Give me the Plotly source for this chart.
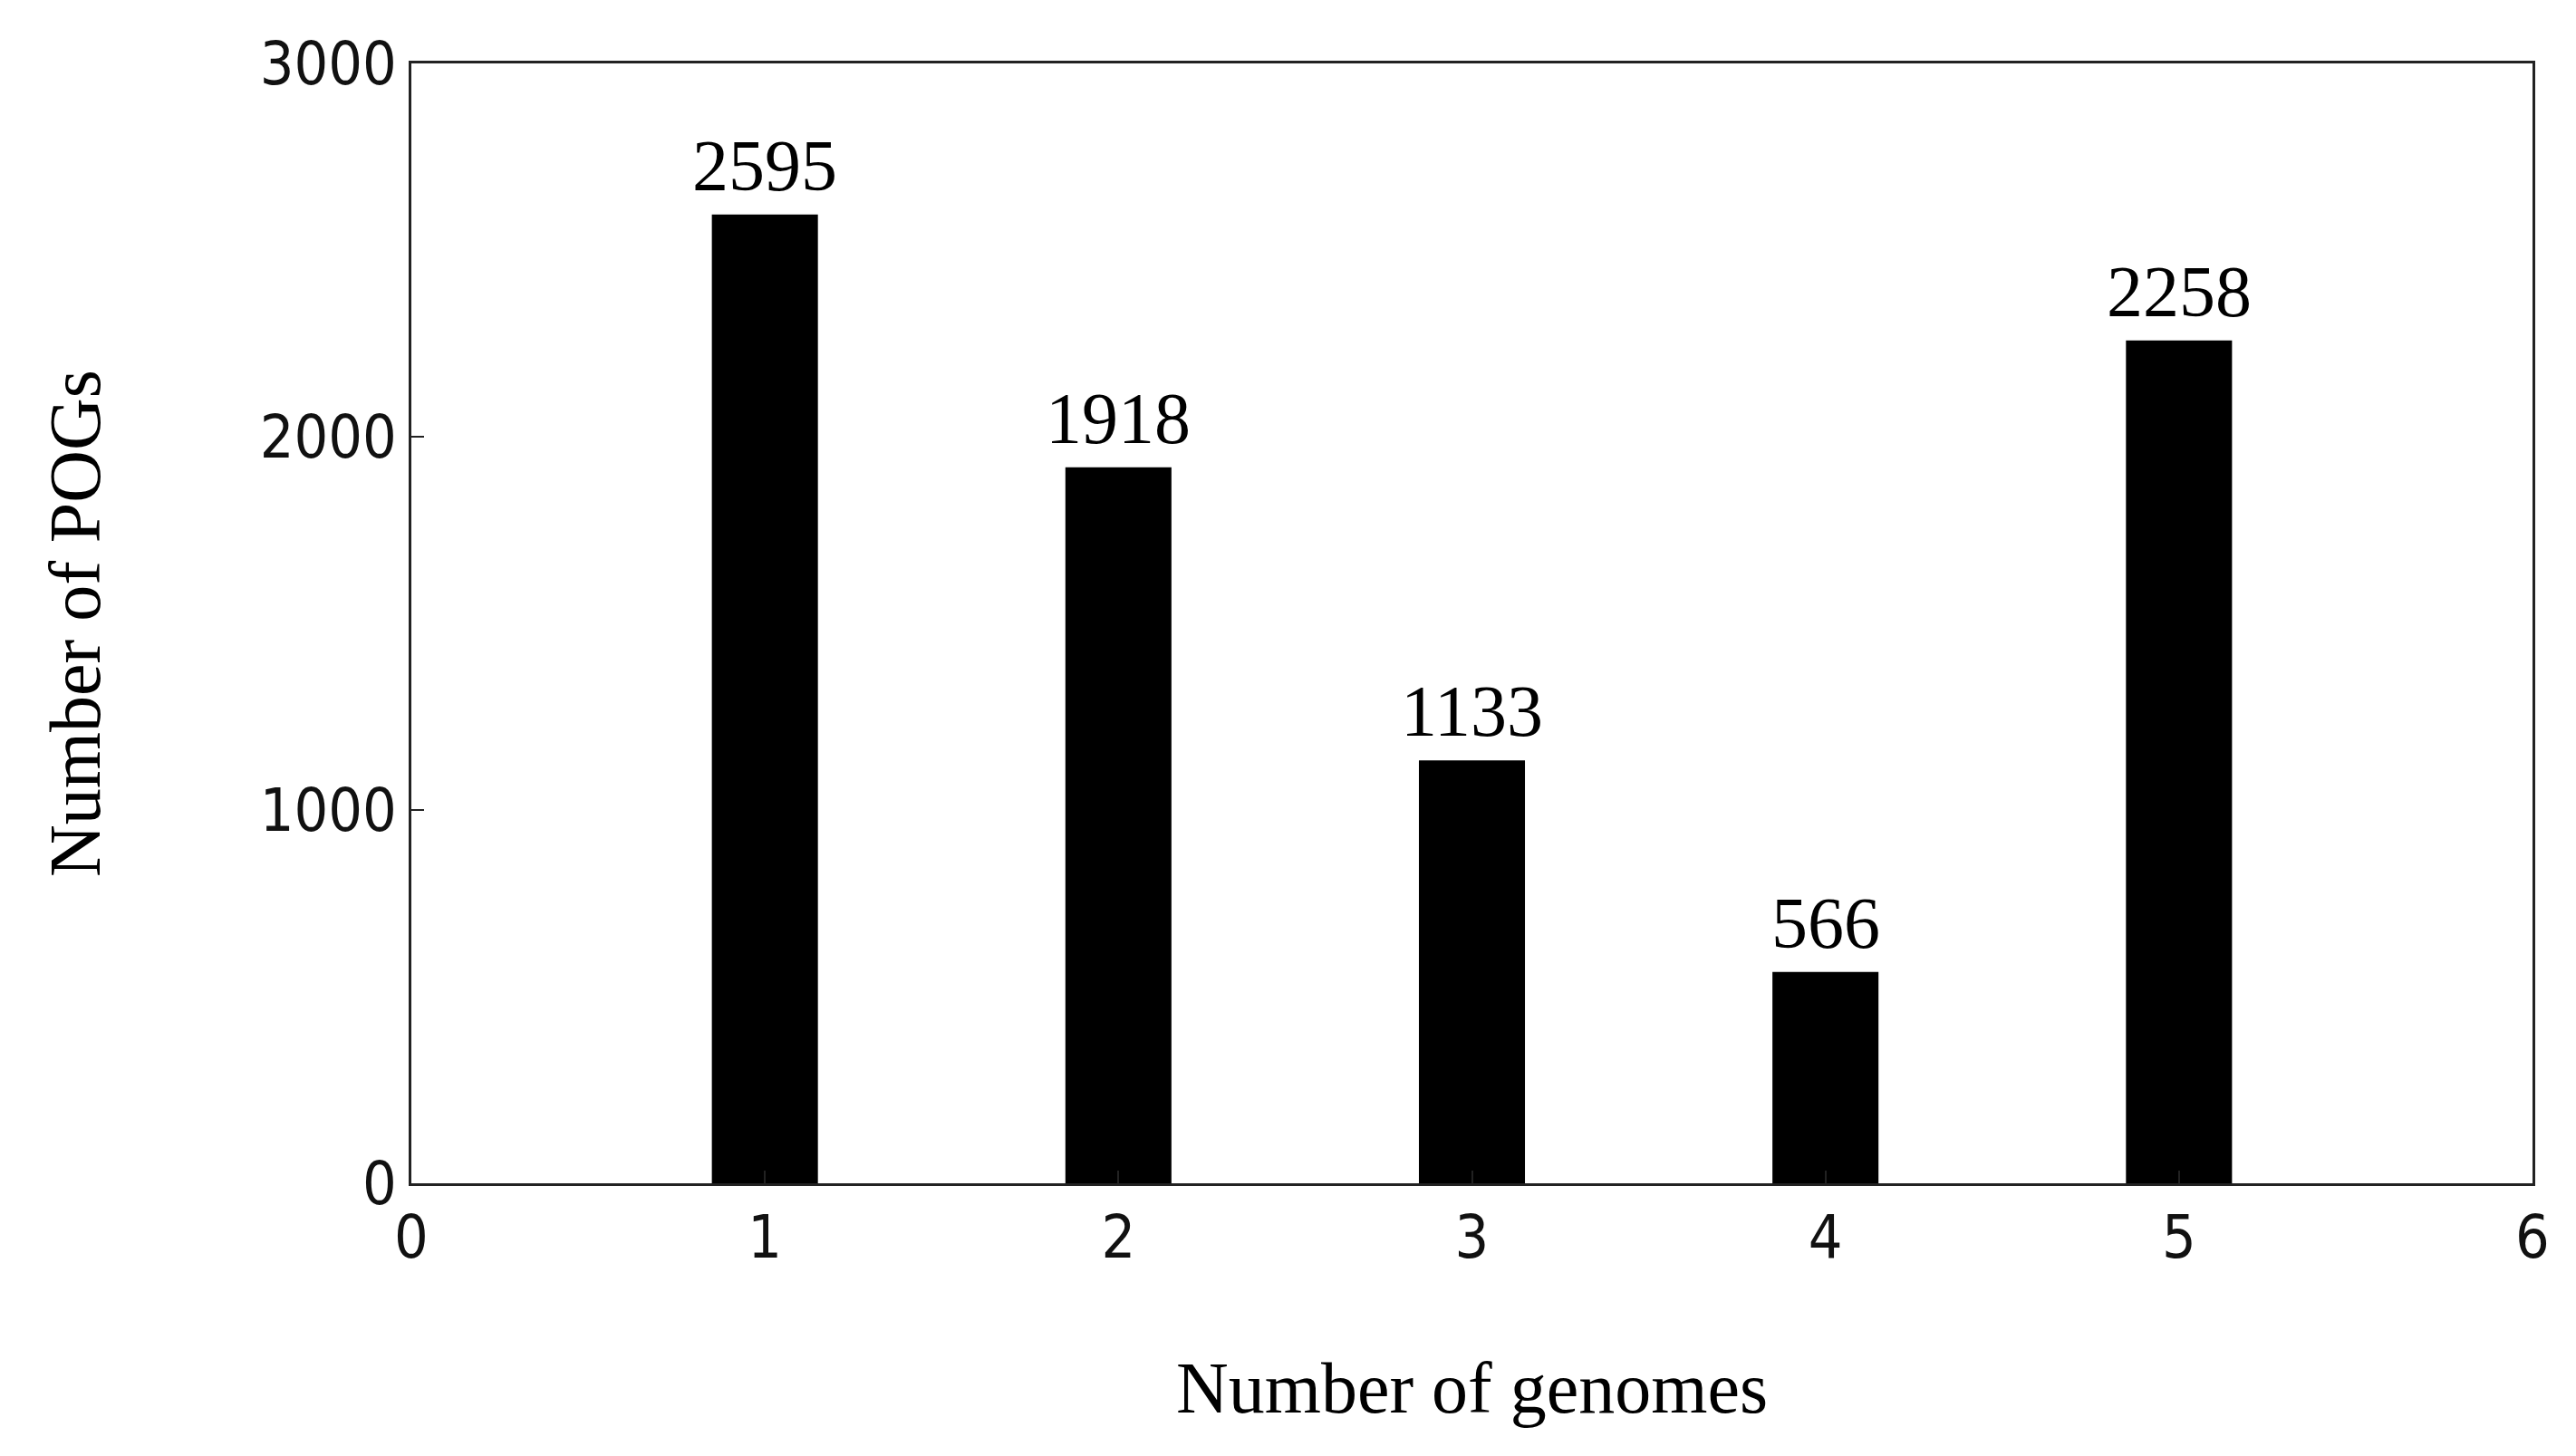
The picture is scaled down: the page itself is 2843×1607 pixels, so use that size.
import plotly.graph_objects as go

genomes = [1, 2, 3, 4, 5]
pogs = [2595, 1918, 1133, 566, 2258]
x_ticks = [0, 1, 2, 3, 4, 5, 6]
y_ticks = [0, 1000, 2000, 3000]

fig = go.Figure(go.Bar(
    x=genomes, y=pogs, width=0.3, marker=dict(color="black", line=dict(width=0)),
))
for g, v in zip(genomes, pogs):
    fig.add_annotation(x=g, y=v, text=str(v), showarrow=False, yanchor="bottom", yshift=8,
                       font=dict(family="Liberation Serif", size=80, color="black"))
axis_common = dict(showline=True, linecolor="#222", linewidth=3, mirror=True,
                   ticks="inside", ticklen=14, tickwidth=2, tickcolor="#222",
                   showgrid=False, zeroline=False,
                   tickfont=dict(family="DejaVu Sans Condensed, DejaVu Sans", size=66, color="#111"))
fig.update_layout(
    width=2843, height=1607, paper_bgcolor="white", plot_bgcolor="white",
    margin=dict(l=446, r=56, t=62, b=309),
    showlegend=False,
    xaxis=dict(range=[0, 6], tickvals=x_ticks, **axis_common,
               title=dict(text="Number of genomes", standoff=100,
                          font=dict(family="Liberation Serif", size=80, color="black"))),
    yaxis=dict(range=[0, 3000], tickvals=y_ticks, **axis_common,
               title=dict(text="Number of POGs", standoff=150,
                          font=dict(family="Liberation Serif", size=80, color="black"))),
)
fig.write_html("out.html")
